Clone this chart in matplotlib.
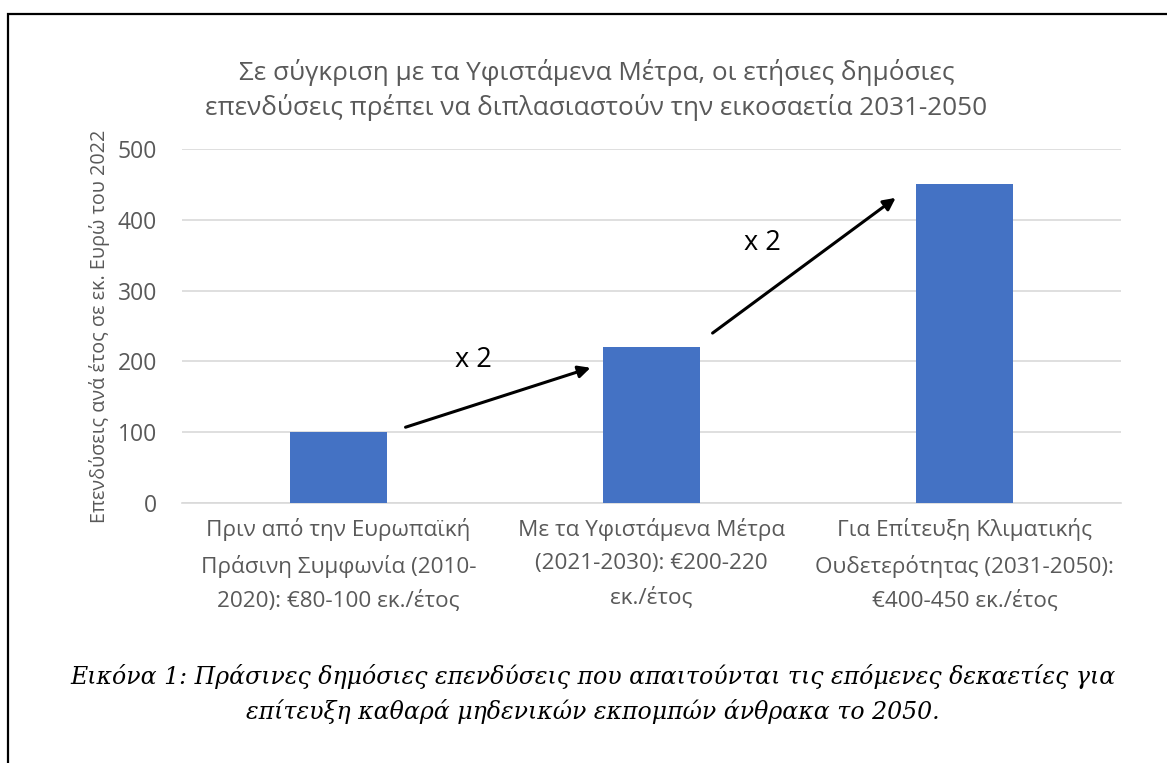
import matplotlib
matplotlib.use("Agg")
import matplotlib.pyplot as plt
from matplotlib.patches import Rectangle

# Δεδομένα
categories = [
    "Πριν από την Ευρωπαϊκή\nΠράσινη Συμφωνία (2010-\n2020): €80-100 εκ./έτος",
    "Με τα Υφιστάμενα Μέτρα\n(2021-2030): €200-220\nεκ./έτος",
    "Για Επίτευξη Κλιματικής\nΟυδετερότητας (2031-2050):\n€400-450 εκ./έτος",
]
values = [100, 220, 450]
y_ticks = [0, 100, 200, 300, 400, 500]

title = ("Σε σύγκριση με τα Υφιστάμενα Μέτρα, οι ετήσιες δημόσιες\n"
         "επενδύσεις πρέπει να διπλασιαστούν την εικοσαετία 2031-2050")
y_label = "Επενδύσεις ανά έτος σε εκ. Ευρώ του 2022"
caption = ("Εικόνα 1: Πράσινες δημόσιες επενδύσεις που απαιτούνται τις επόμενες δεκαετίες για\n"
           "επίτευξη καθαρά μηδενικών εκπομπών άνθρακα το 2050.")

# βέλη (αρχή, τέλος) και ετικέτες "x 2"
arrow_starts = [(0.214, 107), (1.195, 240)]
arrow_ends = [(0.805, 191), (1.78, 431)]
arrow_labels = ["x 2", "x 2"]
label_pos = [(0.43, 202), (1.354, 367)]

plt.rcParams['font.family'] = ['Open Sans', 'DejaVu Sans']
grey = '#595959'

fig = plt.figure(figsize=(11.67, 7.63), dpi=100)
ax = fig.add_axes([0.156, 0.3408, 0.8046, 0.4639])

x = range(len(values))
ax.bar(x, values, width=0.31, color='#4472C4', zorder=3)
ax.set_xlim(-0.5, 2.5)
ax.set_ylim(0, 500)
ax.set_yticks(y_ticks)
ax.yaxis.grid(True, color='#d9d9d9', linewidth=1.2, zorder=0)
ax.set_xticks(list(x))
ax.set_xticklabels(categories, fontsize=16.2, color=grey, linespacing=1.74)
ax.tick_params(axis='y', labelsize=16.5, labelcolor=grey, length=0, pad=18)
ax.tick_params(axis='x', length=0, pad=11)
for s in ['top', 'right', 'left']:
    ax.spines[s].set_visible(False)
ax.spines['bottom'].set_color('#d9d9d9')
ax.spines['bottom'].set_linewidth(1.2)
ax.set_ylabel(y_label, fontsize=14.2, color=grey)
ax.yaxis.set_label_coords(-0.077, 0.5)

for (x0, y0), (x1, y1) in zip(arrow_starts, arrow_ends):
    ax.annotate("", xy=(x1, y1), xytext=(x0, y0),
                arrowprops=dict(arrowstyle='-|>', color='black', lw=2.2,
                                mutation_scale=18, shrinkA=0, shrinkB=0),
                zorder=4)
for lbl, (tx, ty) in zip(arrow_labels, label_pos):
    ax.text(tx, ty, lbl, fontsize=19.5, color='black', ha='center', va='center')

fig.text(0.511, 0.882, title, fontsize=18.8, color=grey, ha='center', va='center',
         linespacing=1.38)
fig.text(0.508, 0.090, caption, fontsize=17, family=['DejaVu Serif'],
         style='italic', color='black', ha='center', va='center', linespacing=1.5)

fig.add_artist(Rectangle((0.0069, -0.1), 1.2, 1.0817, transform=fig.transFigure,
                         fill=False, edgecolor='black', linewidth=1.6, clip_on=False))

fig.savefig("out.png", dpi=100)
